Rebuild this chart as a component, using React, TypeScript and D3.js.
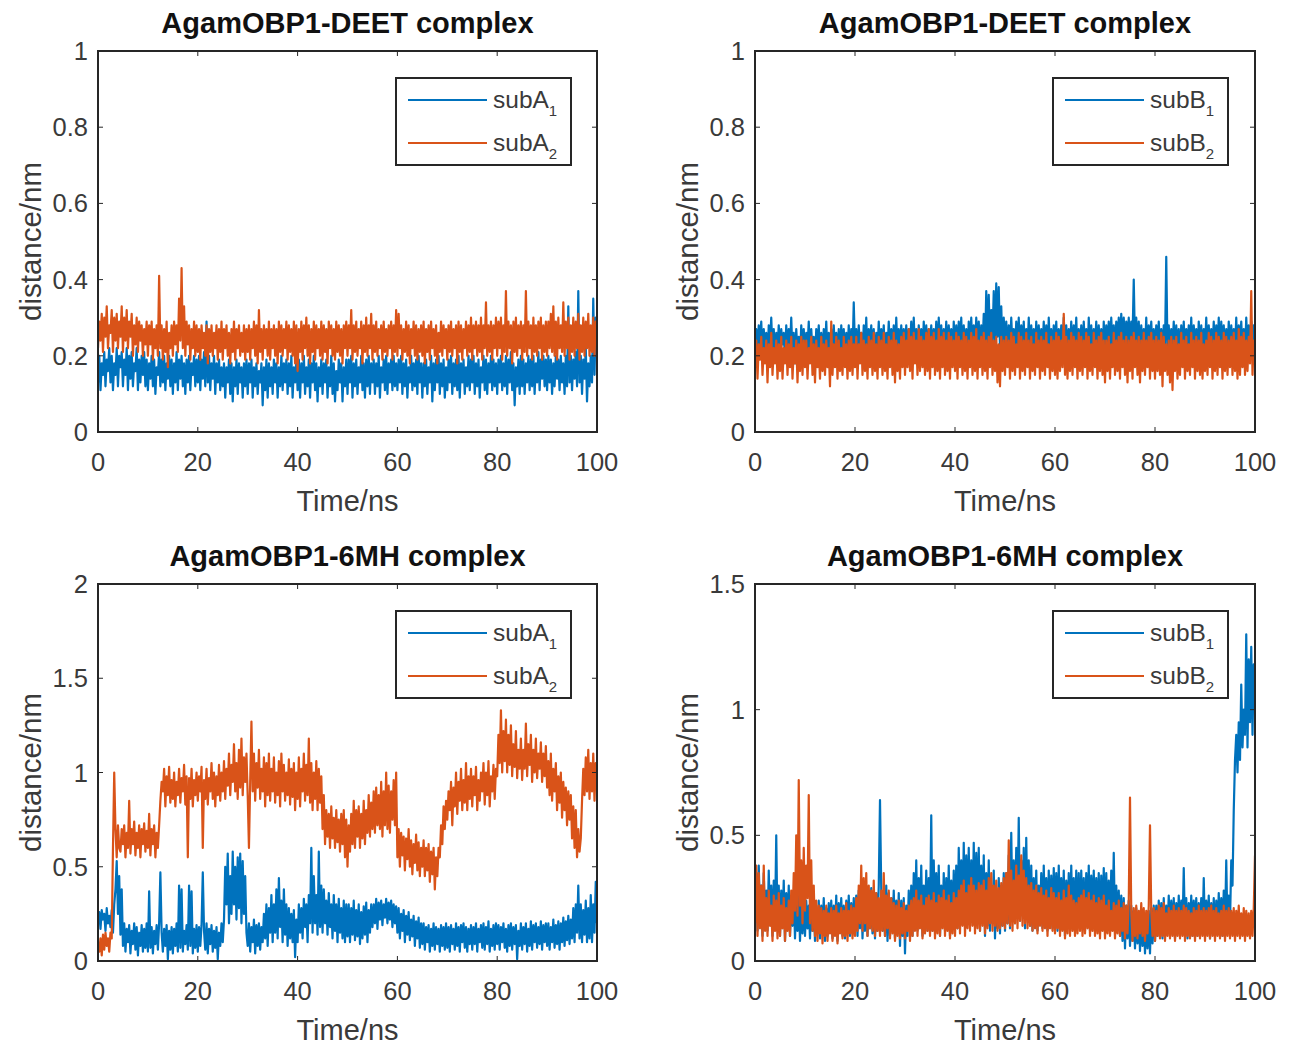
import React from "react";
import * as d3 from "d3";

// ---------- data (distance in nm, sampled uniformly over 0–100 ns, 0.25 ns step) ----------
const xTickValues = [0, 20, 40, 60, 80, 100];
const yTicksDeet = [0, 0.2, 0.4, 0.6, 0.8, 1];
const yTicksSixA = [0, 0.5, 1, 1.5, 2];
const yTicksSixB = [0, 0.5, 1, 1.5];

const titles = ["AgamOBP1-DEET complex", "AgamOBP1-DEET complex", "AgamOBP1-6MH complex", "AgamOBP1-6MH complex"];
const legendNamesA = ["subA", "subA"];
const legendNamesB = ["subB", "subB"];

const deetSubA1 = [
  .13,.2,.11,.18,.15,.21,.12,.19,.16,.22,.13,.2,.11,.18,.15,.22,.12,.2,.17,.21,
  .12,.19,.15,.22,.11,.2,.14,.21,.12,.18,.16,.22,.11,.19,.13,.2,.15,.21,.12,.19,
  .11,.18,.14,.2,.12,.19,.1,.17,.15,.21,.12,.19,.13,.2,.11,.18,.14,.2,.12,.19,
  .1,.18,.13,.21,.11,.19,.14,.2,.12,.18,.1,.19,.13,.2,.11,.18,.15,.2,.12,.19,
  .13,.2,.11,.19,.14,.21,.12,.29,.13,.2,.11,.18,.14,.2,.1,.18,.13,.19,.11,.17,
  .12,.18,.09,.17,.13,.19,.1,.18,.08,.17,.12,.19,.1,.18,.13,.17,.09,.18,.12,.19,
  .1,.18,.13,.19,.09,.17,.12,.18,.1,.16,.13,.18,.07,.17,.11,.19,.09,.18,.12,.17,
  .1,.19,.13,.18,.09,.17,.12,.2,.11,.18,.13,.19,.1,.18,.12,.2,.09,.17,.13,.19,
  .11,.19,.09,.18,.13,.2,.1,.17,.12,.19,.09,.18,.13,.2,.11,.18,.08,.17,.12,.19,
  .1,.18,.13,.19,.09,.17,.12,.2,.1,.18,.08,.16,.11,.19,.13,.18,.08,.17,.12,.19,
  .1,.19,.13,.2,.09,.18,.12,.19,.1,.17,.13,.2,.11,.18,.09,.19,.12,.2,.1,.18,
  .13,.19,.1,.18,.12,.2,.09,.17,.13,.19,.11,.2,.1,.18,.13,.19,.11,.2,.12,.18,
  .11,.19,.13,.2,.1,.18,.12,.19,.09,.17,.13,.2,.11,.18,.12,.19,.1,.2,.13,.18,
  .09,.18,.12,.19,.1,.17,.13,.2,.08,.18,.11,.19,.13,.2,.1,.18,.12,.19,.09,.17,
  .11,.19,.13,.2,.1,.18,.12,.19,.11,.2,.09,.18,.13,.19,.1,.17,.12,.2,.11,.19,
  .13,.2,.1,.18,.12,.19,.09,.17,.13,.2,.11,.19,.1,.18,.13,.2,.11,.19,.12,.18,
  .1,.19,.13,.2,.11,.18,.12,.2,.1,.19,.13,.21,.11,.18,.07,.17,.12,.19,.1,.2,
  .12,.19,.1,.18,.13,.2,.11,.19,.12,.2,.1,.18,.13,.21,.11,.19,.14,.2,.12,.19,
  .11,.2,.13,.19,.1,.18,.12,.2,.14,.19,.11,.2,.13,.18,.1,.2,.12,.33,.13,.2,
  .11,.19,.14,.21,.12,.37,.13,.2,.1,.19,.14,.22,.08,.18,.12,.2,.13,.35,.15,.3,
  .2,
];

const deetSubA2 = [
  .22,.29,.24,.31,.21,.3,.25,.33,.22,.28,.26,.32,.21,.3,.24,.31,.22,.29,.25,.33,
  .21,.3,.24,.32,.22,.29,.25,.31,.2,.28,.23,.3,.21,.29,.24,.28,.2,.27,.23,.29,
  .2,.28,.23,.29,.19,.27,.22,.28,.2,.41,.22,.28,.19,.27,.21,.29,.17,.26,.22,.28,
  .2,.29,.23,.28,.21,.35,.24,.43,.22,.33,.2,.29,.23,.28,.19,.27,.22,.29,.2,.28,
  .21,.27,.19,.28,.22,.26,.2,.28,.18,.27,.21,.28,.2,.26,.22,.28,.19,.27,.21,.29,
  .19,.27,.22,.28,.2,.26,.18,.27,.21,.29,.19,.27,.22,.28,.2,.26,.21,.28,.19,.27,
  .21,.28,.19,.27,.22,.29,.2,.28,.18,.32,.21,.27,.19,.28,.22,.27,.2,.29,.19,.27,
  .22,.28,.2,.27,.18,.29,.21,.28,.2,.27,.22,.29,.19,.28,.21,.27,.2,.29,.18,.28,
  .16,.27,.21,.29,.19,.28,.22,.3,.2,.28,.18,.27,.21,.29,.19,.28,.22,.27,.2,.29,
  .19,.28,.21,.27,.18,.29,.22,.28,.2,.27,.19,.29,.21,.28,.2,.27,.18,.28,.22,.29,
  .2,.28,.22,.32,.19,.28,.21,.29,.2,.27,.22,.29,.18,.28,.21,.3,.2,.28,.22,.31,
  .19,.28,.21,.29,.2,.27,.22,.28,.19,.29,.21,.27,.2,.28,.22,.29,.19,.28,.21,.32,
  .2,.31,.22,.28,.19,.27,.21,.29,.2,.28,.18,.27,.22,.29,.2,.28,.19,.27,.21,.28,
  .2,.29,.18,.27,.21,.28,.19,.29,.22,.27,.2,.28,.18,.26,.21,.29,.2,.28,.22,.27,
  .19,.28,.21,.29,.2,.27,.22,.28,.18,.29,.21,.28,.19,.27,.22,.29,.2,.28,.21,.3,
  .19,.28,.22,.29,.2,.28,.21,.3,.19,.28,.22,.34,.2,.28,.21,.29,.19,.28,.22,.3,
  .2,.29,.22,.3,.19,.28,.21,.37,.2,.29,.22,.28,.18,.29,.21,.3,.2,.28,.22,.29,
  .19,.28,.21,.37,.2,.29,.22,.28,.19,.3,.21,.28,.2,.29,.22,.3,.19,.28,.21,.29,
  .2,.29,.22,.31,.21,.33,.2,.29,.19,.3,.22,.28,.21,.34,.2,.29,.22,.3,.19,.28,
  .21,.3,.2,.29,.22,.31,.19,.28,.21,.3,.2,.29,.22,.31,.2,.28,.21,.3,.2,.29,
  .24,
];

const deetSubB1 = [
  .24,.27,.21,.28,.23,.29,.2,.27,.22,.26,.19,.28,.23,.3,.21,.27,.2,.26,.22,.28,
  .2,.27,.23,.26,.19,.28,.21,.27,.22,.3,.2,.26,.18,.27,.21,.25,.19,.28,.22,.27,
  .2,.26,.22,.29,.19,.27,.21,.25,.18,.27,.22,.28,.2,.26,.19,.27,.21,.29,.2,.26,
  .22,.27,.19,.28,.21,.26,.2,.27,.18,.28,.22,.27,.2,.26,.21,.28,.19,.27,.2,.34,
  .21,.27,.19,.28,.22,.26,.2,.28,.21,.3,.19,.27,.22,.28,.2,.27,.18,.26,.21,.29,
  .2,.27,.22,.28,.19,.26,.21,.29,.2,.27,.22,.28,.19,.3,.21,.27,.2,.28,.22,.27,
  .21,.28,.19,.27,.22,.29,.2,.3,.21,.27,.19,.28,.22,.27,.2,.29,.21,.28,.19,.27,
  .22,.28,.2,.27,.21,.29,.19,.3,.22,.28,.2,.27,.21,.29,.2,.28,.22,.27,.19,.29,
  .21,.28,.2,.29,.22,.3,.19,.28,.21,.27,.2,.29,.22,.3,.21,.28,.2,.3,.22,.29,
  .2,.28,.22,.31,.21,.37,.23,.36,.22,.32,.24,.37,.22,.39,.25,.38,.22,.33,.21,.3,
  .22,.29,.2,.28,.21,.3,.22,.27,.2,.29,.21,.3,.19,.28,.22,.29,.2,.27,.21,.3,
  .2,.28,.22,.27,.19,.29,.21,.28,.2,.27,.22,.29,.2,.28,.19,.3,.21,.27,.2,.28,
  .22,.29,.2,.27,.21,.28,.19,.3,.22,.28,.2,.27,.21,.29,.19,.28,.22,.3,.2,.27,
  .21,.28,.2,.29,.22,.27,.19,.3,.21,.28,.2,.27,.22,.29,.2,.28,.21,.27,.19,.29,
  .2,.28,.22,.29,.21,.3,.22,.28,.2,.29,.23,.3,.22,.31,.24,.3,.22,.29,.23,.3,
  .22,.29,.24,.4,.22,.3,.21,.29,.2,.28,.22,.27,.21,.3,.2,.28,.22,.29,.21,.27,
  .2,.28,.22,.29,.21,.27,.2,.28,.22,.46,.21,.28,.2,.27,.22,.29,.2,.28,.21,.27,
  .19,.28,.21,.29,.2,.27,.22,.28,.21,.3,.19,.28,.22,.27,.2,.29,.21,.28,.2,.27,
  .22,.3,.2,.28,.21,.27,.22,.29,.2,.28,.21,.3,.19,.29,.22,.28,.2,.27,.21,.29,
  .2,.28,.22,.27,.21,.3,.2,.28,.22,.29,.21,.27,.2,.3,.22,.28,.23,.29,.21,.28,
  .26,
];

const deetSubB2 = [
  .17,.24,.14,.23,.19,.25,.15,.22,.18,.24,.13,.23,.17,.26,.15,.22,.18,.24,.14,.23,
  .16,.25,.14,.22,.18,.24,.15,.23,.17,.25,.14,.22,.18,.24,.13,.23,.16,.25,.15,.24,
  .17,.24,.14,.22,.18,.25,.15,.23,.13,.24,.17,.22,.14,.25,.16,.23,.15,.24,.17,.22,
  .12,.29,.15,.23,.17,.25,.14,.24,.16,.22,.15,.25,.17,.23,.14,.24,.16,.25,.15,.23,
  .17,.25,.14,.23,.18,.26,.15,.24,.16,.23,.14,.25,.17,.24,.15,.26,.16,.23,.14,.25,
  .17,.24,.15,.26,.16,.23,.14,.25,.17,.24,.15,.26,.13,.24,.16,.23,.14,.25,.17,.26,
  .15,.24,.17,.27,.16,.25,.14,.26,.18,.24,.15,.27,.16,.25,.17,.24,.15,.26,.16,.27,
  .14,.25,.17,.26,.15,.24,.16,.27,.14,.25,.17,.26,.15,.24,.16,.26,.14,.25,.17,.24,
  .16,.26,.14,.25,.17,.24,.15,.26,.16,.25,.14,.24,.17,.26,.15,.25,.16,.27,.14,.24,
  .17,.25,.15,.26,.16,.24,.14,.25,.17,.26,.15,.24,.16,.25,.13,.23,.12,.25,.16,.24,
  .15,.25,.17,.24,.14,.26,.16,.25,.15,.23,.17,.26,.14,.25,.16,.24,.15,.26,.17,.24,
  .14,.25,.16,.23,.15,.26,.17,.24,.14,.25,.16,.24,.15,.26,.17,.23,.14,.25,.16,.24,
  .15,.26,.14,.25,.16,.24,.17,.31,.15,.25,.14,.24,.16,.26,.15,.25,.17,.24,.14,.26,
  .16,.25,.15,.24,.17,.26,.14,.25,.16,.23,.15,.26,.17,.24,.14,.25,.16,.26,.15,.24,
  .13,.24,.16,.25,.14,.23,.17,.26,.15,.24,.16,.25,.14,.26,.17,.24,.15,.25,.13,.24,
  .16,.25,.14,.26,.17,.24,.15,.25,.13,.24,.16,.26,.15,.24,.17,.25,.14,.26,.16,.24,
  .14,.25,.16,.24,.15,.26,.12,.25,.16,.23,.15,.24,.13,.25,.11,.24,.16,.25,.14,.23,
  .15,.26,.17,.24,.14,.25,.16,.23,.15,.26,.17,.24,.14,.25,.16,.24,.15,.26,.14,.23,
  .16,.24,.15,.26,.17,.25,.14,.24,.16,.26,.15,.25,.17,.24,.14,.26,.16,.25,.15,.24,
  .17,.25,.15,.26,.16,.24,.14,.27,.15,.25,.17,.26,.15,.24,.16,.25,.18,.37,.15,.24,
  .19,
];

const sixSubA1 = [
  .2,.26,.17,.27,.22,.25,.16,.28,.2,.24,.18,.27,.15,.3,.38,.53,.25,.45,.14,.38,
  .08,.2,.05,.17,.1,.19,.04,.16,.09,.2,.06,.18,.03,.15,.08,.19,.05,.17,.07,.2,
  .05,.37,.07,.18,.04,.16,.09,.19,.06,.2,.47,.15,.05,.17,.08,.19,.01,.16,.06,.18,
  .04,.17,.08,.2,.05,.4,.07,.38,.05,.16,.09,.19,.06,.4,.08,.37,.04,.17,.07,.19,
  .05,.18,.08,.19,.47,.16,.06,.2,.04,.17,.09,.19,.05,.16,.07,.18,.01,.15,.08,.2,
  .1,.22,.5,.3,.57,.2,.45,.25,.58,.3,.5,.22,.55,.28,.57,.2,.53,.25,.45,.15,
  .08,.2,.05,.18,.1,.22,.04,.19,.08,.2,.06,.18,.1,.25,.12,.3,.08,.28,.15,.35,
  .1,.3,.15,.38,.12,.44,.18,.32,.1,.38,.14,.3,.08,.28,.12,.25,.1,.27,.02,.22,
  .1,.3,.15,.28,.12,.33,.18,.3,.1,.35,.2,.6,.15,.45,.2,.35,.14,.58,.18,.4,
  .15,.38,.2,.32,.14,.36,.18,.3,.12,.35,.16,.3,.1,.33,.15,.28,.12,.32,.1,.3,
  .13,.3,.1,.28,.14,.32,.11,.27,.13,.3,.09,.26,.12,.29,.14,.31,.1,.27,.15,.3,
  .18,.3,.2,.33,.17,.31,.22,.32,.19,.3,.23,.33,.2,.31,.22,.32,.18,.3,.2,.29,
  .15,.28,.12,.25,.16,.27,.1,.24,.14,.26,.11,.22,.13,.24,.08,.21,.12,.23,.07,.2,
  .09,.2,.06,.18,.1,.19,.05,.17,.08,.2,.06,.18,.09,.17,.05,.19,.08,.18,.06,.2,
  .07,.18,.05,.19,.09,.17,.06,.2,.08,.18,.05,.19,.1,.2,.07,.18,.05,.17,.09,.19,
  .06,.18,.09,.2,.05,.17,.1,.19,.07,.2,.06,.18,.09,.21,.05,.17,.08,.19,.06,.2,
  .09,.19,.06,.18,.1,.2,.07,.17,.05,.19,.08,.2,.06,.18,.09,.19,.01,.16,.08,.2,
  .06,.18,.09,.2,.05,.17,.08,.21,.06,.19,.1,.2,.07,.18,.09,.21,.06,.19,.1,.2,
  .08,.2,.06,.18,.1,.22,.07,.19,.09,.21,.06,.2,.1,.23,.08,.21,.11,.24,.09,.22,
  .12,.28,.1,.3,.15,.4,.12,.3,.1,.27,.14,.32,.1,.28,.12,.35,.1,.3,.15,.42,
  .2,
];

const sixSubA2 = [
  .1,.05,.12,.03,.14,.06,.15,.08,.12,.05,.15,.12,.6,1.0,.7,.55,.72,.6,.58,.7,
  .62,.72,.55,.68,.6,.85,.57,.7,.62,.74,.56,.68,.6,.72,.55,.7,.62,.73,.58,.69,
  .6,.78,.56,.7,.62,.72,.55,.68,.6,.72,.85,.95,.9,1.02,.82,.98,.88,1.03,.84,.96,
  .86,1.0,.82,.95,.88,1.02,.84,.97,.9,1.04,.83,.98,.55,.97,.86,1.02,.82,.96,.88,1.0,
  .85,.98,.9,1.03,.6,.96,.86,1.02,.83,.97,.9,1.05,.86,1.0,.82,.98,.88,1.04,.85,1.0,
  .9,1.06,.86,1.02,.93,1.1,.88,1.04,.95,1.15,.9,1.05,.86,1.12,.92,1.18,.88,1.08,.95,1.1,
  .88,.6,.95,1.27,.9,1.1,.85,1.05,.92,1.12,.86,1.02,.9,1.08,.82,1.05,.88,1.1,.85,1.02,
  .9,1.08,.84,1.0,.88,1.06,.82,1.1,.9,1.04,.85,1.0,.88,1.07,.83,1.02,.87,1.05,.8,1.0,
  .86,1.08,.82,1.02,.9,1.1,.85,1.04,.88,1.18,.84,1.05,.8,1.0,.86,1.06,.8,1.02,.84,.98,
  .7,.88,.62,.8,.66,.78,.6,.82,.65,.76,.6,.8,.63,.75,.58,.78,.62,.8,.55,.75,
  .5,.72,.58,.78,.62,.85,.6,.8,.66,.82,.6,.78,.65,.85,.62,.8,.68,.88,.66,.84,
  .7,.9,.68,.92,.72,.88,.7,.95,.66,.9,.72,1.0,.7,.93,.68,.9,.75,.96,.72,1.0,
  .55,.7,.5,.68,.56,.66,.48,.65,.54,.7,.5,.64,.46,.62,.52,.67,.48,.63,.45,.6,
  .5,.64,.45,.6,.48,.62,.42,.58,.46,.6,.38,.55,.45,.6,.55,.72,.62,.82,.7,.85,
  .75,.9,.8,.95,.72,.92,.82,1.0,.78,.95,.85,1.02,.8,.96,.84,1.05,.8,.98,.86,1.02,
  .82,.98,.88,1.03,.8,.96,.85,1.0,.9,1.05,.83,1.0,.88,1.06,.82,.98,.9,1.04,.86,1.02,
  .98,1.2,1.05,1.33,1.0,1.22,1.06,1.28,1.0,1.2,1.04,1.25,.98,1.15,1.03,1.22,.97,1.12,1.02,1.18,
  .96,1.12,1.02,1.26,.98,1.15,1.04,1.2,.95,1.12,1.0,1.18,.97,1.1,1.02,1.16,.95,1.1,.98,1.14,
  .92,1.06,.88,1.1,.85,1.02,.9,1.05,.8,.98,.84,1.0,.76,.95,.8,.92,.72,.9,.75,.88,
  .65,.82,.6,.8,.55,.7,.58,.65,.85,1.02,.88,1.08,.9,1.12,.86,1.05,.9,1.1,.85,1.05,
  .95,
];

const sixSubB1 = [
  .15,.35,.12,.38,.18,.3,.1,.35,.15,.28,.12,.36,.16,.3,.1,.32,.14,.5,.12,.3,
  .1,.28,.15,.32,.08,.27,.13,.3,.1,.25,.14,.28,.09,.24,.12,.26,.08,.23,.11,.25,
  .1,.24,.13,.22,.09,.25,.12,.23,.08,.2,.11,.24,.09,.22,.12,.25,.08,.21,.1,.23,
  .12,.24,.09,.22,.11,.26,.08,.23,.12,.25,.1,.22,.09,.24,.12,.26,.1,.23,.11,.25,
  .12,.26,.1,.28,.13,.3,.09,.25,.12,.28,.1,.26,.13,.29,.11,.25,.09,.27,.12,.3,
  .64,.28,.12,.26,.1,.3,.08,.27,.1,.25,.13,.28,.09,.24,.11,.27,.06,.24,.1,.25,
  .03,.22,.1,.28,.12,.3,.1,.35,.14,.4,.12,.33,.15,.38,.1,.3,.13,.36,.12,.33,
  .15,.58,.12,.4,.15,.35,.13,.38,.1,.3,.14,.35,.12,.33,.15,.38,.1,.32,.13,.36,
  .15,.38,.13,.45,.2,.4,.16,.47,.15,.42,.18,.45,.14,.4,.17,.47,.15,.43,.18,.45,
  .12,.38,.16,.42,.1,.35,.14,.4,.12,.3,.15,.36,.09,.28,.13,.33,.11,.3,.14,.35,
  .12,.35,.15,.42,.13,.51,.18,.4,.15,.45,.2,.57,.16,.4,.18,.45,.13,.49,.17,.4,
  .14,.38,.12,.33,.15,.36,.12,.3,.15,.35,.13,.38,.16,.33,.12,.36,.15,.34,.13,.37,
  .15,.35,.12,.38,.16,.33,.13,.36,.1,.32,.14,.35,.12,.38,.15,.33,.12,.36,.14,.35,
  .13,.36,.15,.33,.12,.35,.14,.38,.12,.34,.16,.36,.13,.33,.15,.35,.12,.34,.14,.37,
  .13,.35,.15,.32,.12,.36,.14,.43,.12,.3,.15,.28,.1,.26,.08,.25,.05,.22,.09,.24,
  .06,.22,.08,.2,.05,.21,.07,.19,.04,.2,.06,.18,.03,.19,.05,.2,.03,.21,.07,.22,
  .08,.22,.1,.24,.12,.23,.09,.25,.1,.22,.12,.26,.1,.24,.11,.25,.09,.23,.12,.26,
  .1,.24,.12,.37,.11,.25,.09,.23,.12,.26,.1,.24,.13,.25,.1,.23,.12,.25,.11,.33,
  .1,.24,.12,.26,.09,.23,.11,.25,.1,.24,.12,.27,.11,.25,.1,.28,.13,.4,.12,.26,
  .15,.4,.3,.6,.8,.9,.75,.95,.8,1.1,.85,1.0,.9,1.3,.85,1.2,.95,1.25,.9,1.18,
  1.05,
];

const sixSubB2 = [
  .15,.38,.1,.35,.13,.3,.08,.38,.12,.25,.1,.28,.14,.22,.08,.26,.12,.24,.09,.27,
  .1,.22,.13,.25,.08,.21,.12,.24,.1,.28,.15,.35,.2,.5,.18,.72,.22,.4,.15,.45,
  .2,.38,.25,.66,.15,.4,.12,.3,.1,.24,.08,.22,.11,.21,.07,.2,.1,.22,.08,.19,
  .11,.21,.08,.2,.1,.22,.07,.19,.11,.21,.09,.2,.1,.23,.08,.2,.11,.22,.09,.21,
  .1,.25,.12,.3,.15,.38,.12,.33,.15,.35,.1,.3,.13,.28,.12,.32,.1,.27,.12,.25,
  .1,.28,.12,.35,.1,.26,.13,.28,.09,.25,.11,.23,.08,.22,.1,.24,.09,.21,.11,.23,
  .09,.2,.12,.22,.08,.24,.1,.25,.12,.28,.1,.24,.13,.26,.09,.22,.11,.25,.12,.26,
  .1,.24,.12,.27,.09,.23,.11,.26,.1,.25,.13,.28,.1,.24,.12,.26,.09,.23,.11,.27,
  .1,.25,.13,.28,.11,.3,.14,.32,.1,.27,.13,.3,.12,.33,.14,.3,.11,.28,.13,.31,
  .12,.3,.14,.32,.11,.28,.13,.33,.15,.35,.12,.3,.14,.32,.12,.29,.13,.31,.14,.33,
  .13,.35,.15,.48,.14,.36,.12,.32,.15,.38,.13,.34,.16,.42,.14,.36,.15,.33,.13,.3,
  .14,.31,.12,.28,.13,.3,.11,.27,.14,.29,.12,.26,.13,.28,.1,.25,.13,.29,.12,.27,
  .11,.25,.13,.27,.1,.24,.12,.28,.09,.25,.11,.3,.1,.26,.12,.24,.1,.23,.11,.25,
  .12,.26,.1,.28,.11,.25,.13,.27,.1,.24,.12,.26,.1,.23,.11,.25,.09,.24,.12,.26,
  .09,.22,.11,.24,.1,.2,.12,.23,.09,.22,.11,.24,.1,.21,.12,.23,.09,.22,.11,.24,
  .65,.2,.08,.21,.1,.22,.09,.2,.11,.23,.1,.21,.08,.2,.11,.22,.54,.2,.1,.21,
  .08,.2,.1,.22,.09,.21,.1,.23,.08,.19,.1,.21,.09,.2,.1,.22,.08,.2,.1,.21,
  .09,.2,.1,.22,.08,.21,.1,.2,.09,.19,.1,.21,.08,.2,.1,.22,.09,.2,.1,.21,
  .08,.2,.1,.21,.09,.22,.1,.2,.08,.21,.1,.19,.09,.2,.1,.22,.08,.2,.1,.21,
  .09,.2,.1,.21,.08,.2,.1,.22,.09,.19,.1,.21,.08,.2,.1,.19,.09,.2,.1,.21,
  .42,
];

// ---------- styling ----------
const BLUE = "#0072BD";
const ORANGE = "#D95319";
const AXIS = "#262626";
const TICKTXT = "#3a3a3a";
const FONT = "'Liberation Sans', Arial, Helvetica, sans-serif";

type PanelProps = {
  left: number; top: number; right: number; bottom: number;
  title: string; yMax: number; yTicks: number[];
  names: string[]; s1: number[]; s2: number[];
};

function Panel({ left, top, right, bottom, title, yMax, yTicks, names, s1, s2 }: PanelProps) {
  const x = d3.scaleLinear().domain([0, 100]).range([left, right]);
  const y = d3.scaleLinear().domain([0, yMax]).range([bottom, top]);
  const mk = (arr: number[]) =>
    d3.line<number>()
      .x((_, i) => x((i * 100) / (arr.length - 1)))
      .y((d) => y(d))(arr) || "";
  const cx = (left + right) / 2;
  const cy = (top + bottom) / 2;
  const tk = 5;
  const lgL = left + 298;
  const lgT = top + 27;
  const lgW = 175;
  const lgH = 87;
  const clipId = `clip-${left}-${top}`;
  return (
    <g fontFamily={FONT}>
      <defs>
        <clipPath id={clipId}>
          <rect x={left} y={top} width={right - left} height={bottom - top} />
        </clipPath>
      </defs>
      <text x={cx} y={top - 18} textAnchor="middle" fontSize={29} fontWeight="bold" fill="#111">{title}</text>
      <g clipPath={`url(#${clipId})`}>
        <path d={mk(s1)} fill="none" stroke={BLUE} strokeWidth={2.2} strokeLinejoin="round" />
        <path d={mk(s2)} fill="none" stroke={ORANGE} strokeWidth={2.2} strokeLinejoin="round" />
      </g>
      {xTickValues.map((v) => (
        <g key={"x" + v}>
          <line x1={x(v)} x2={x(v)} y1={bottom} y2={bottom - tk} stroke={AXIS} strokeWidth={1} />
          <line x1={x(v)} x2={x(v)} y1={top} y2={top + tk} stroke={AXIS} strokeWidth={1} />
          <text x={x(v)} y={bottom + 39} textAnchor="middle" fontSize={25.5} fill={TICKTXT}>{v}</text>
        </g>
      ))}
      {yTicks.map((v) => (
        <g key={"y" + v}>
          <line x1={left} x2={left + tk} y1={y(v)} y2={y(v)} stroke={AXIS} strokeWidth={1} />
          <line x1={right} x2={right - tk} y1={y(v)} y2={y(v)} stroke={AXIS} strokeWidth={1} />
          <text x={left - 10} y={y(v) + 9} textAnchor="end" fontSize={25.5} fill={TICKTXT}>{String(v)}</text>
        </g>
      ))}
      <rect x={left} y={top} width={right - left} height={bottom - top} fill="none" stroke={AXIS} strokeWidth={2} />
      <text x={cx} y={bottom + 79} textAnchor="middle" fontSize={29} fill={TICKTXT}>Time/ns</text>
      <text transform={`translate(${left - 57},${cy}) rotate(-90)`} textAnchor="middle" fontSize={29.5} fill={TICKTXT}>distance/nm</text>
      <rect x={lgL} y={lgT} width={lgW} height={lgH} fill="#fff" stroke={AXIS} strokeWidth={2} />
      {names.map((n, i) => {
        const ly = lgT + 22 + i * 43;
        return (
          <g key={i}>
            <line x1={lgL + 12} x2={lgL + 91} y1={ly} y2={ly} stroke={i === 0 ? BLUE : ORANGE} strokeWidth={2.2} />
            <text x={lgL + 97} y={ly + 8} fontSize={24.5} fill={TICKTXT}>
              {n}
              <tspan dy={8} fontSize={15}>{i + 1}</tspan>
            </text>
          </g>
        );
      })}
    </g>
  );
}

export default function App() {
  return (
    <svg width={1294} height={1046} style={{ position: "absolute", left: 0, top: 0, background: "#fff" }}>
      <rect width={1294} height={1046} fill="#fff" />
      <Panel left={98} top={51} right={597} bottom={432} title={titles[0]} yMax={1} yTicks={yTicksDeet} names={legendNamesA} s1={deetSubA1} s2={deetSubA2} />
      <Panel left={755} top={51} right={1255} bottom={432} title={titles[1]} yMax={1} yTicks={yTicksDeet} names={legendNamesB} s1={deetSubB1} s2={deetSubB2} />
      <Panel left={98} top={584} right={597} bottom={961} title={titles[2]} yMax={2} yTicks={yTicksSixA} names={legendNamesA} s1={sixSubA1} s2={sixSubA2} />
      <Panel left={755} top={584} right={1255} bottom={961} title={titles[3]} yMax={1.5} yTicks={yTicksSixB} names={legendNamesB} s1={sixSubB1} s2={sixSubB2} />
    </svg>
  );
}
